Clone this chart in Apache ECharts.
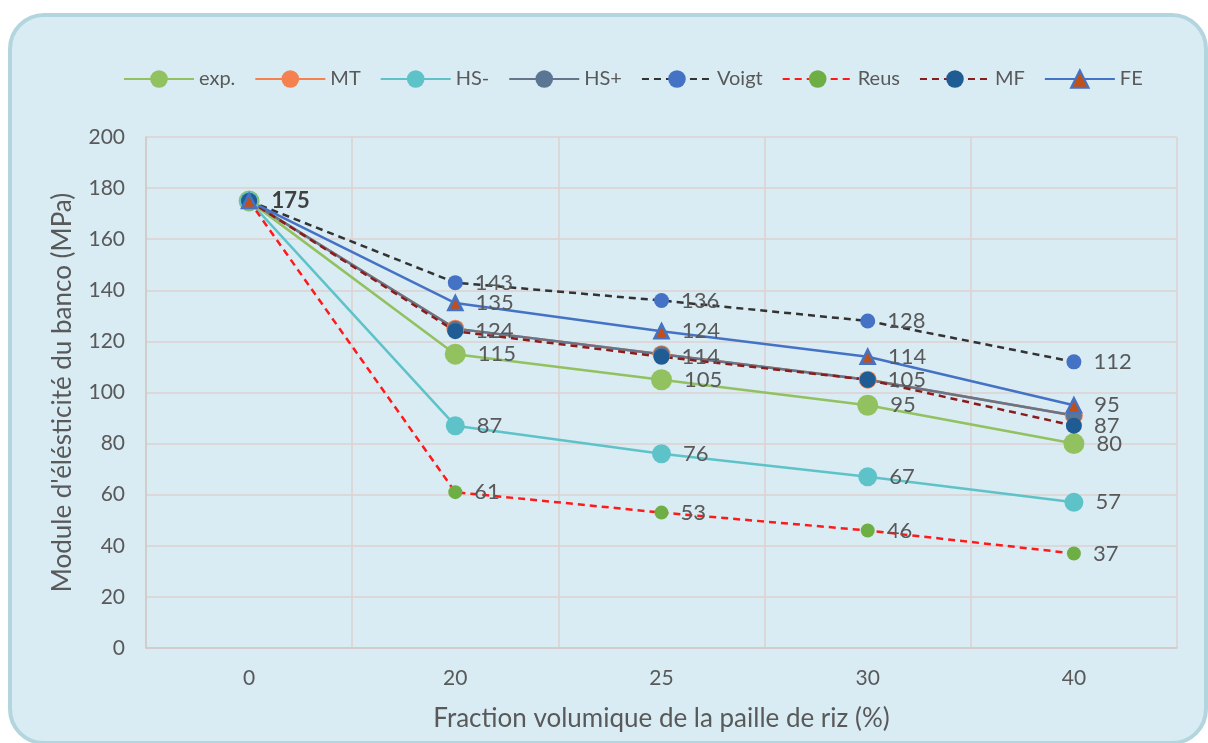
<!DOCTYPE html>
<html>
<head>
<meta charset="utf-8">
<script src="https://cdn.jsdelivr.net/npm/echarts@6/dist/echarts.min.js"></script>
<style>
  html, body { margin: 0; padding: 0; background: #fff; }
  #frame {
    position: absolute; left: 8px; top: 13px; width: 1192px; height: 724px;
    background: #d9ebf3; border: 4px solid #b3d6de; border-radius: 36px;
  }
  #chart { position: absolute; left: 0; top: 0; width: 1208px; height: 743px; }
</style>
</head>
<body>
<div id="frame"></div>
<div id="chart"></div>
<script>
  const fractions = ['0', '20', '25', '30', '40'];
  const expVals = [175, 115, 105, 95, 80];
  const mtVals = [175, 125, 115, 105, 91];
  const hsMinusVals = [175, 87, 76, 67, 57];
  const hsPlusVals = [175, 125, 115, 105, 91];
  const voigtVals = [175, 143, 136, 128, 112];
  const reusVals = [175, 61, 53, 46, 37];
  const mfVals = [175, 124, 114, 105, 87];
  const feVals = [175, 135, 124, 114, 95];

  const textColor = '#595959';
  const font = 'Lato, "Noto Sans", sans-serif';

  function labelled(vals, bold) {
    return vals.map((v, i) => {
      if (i > 0) return v;
      return bold
        ? { value: v, label: { show: true, fontWeight: 'bold', color: '#404040' } }
        : { value: v, label: { show: false } };
    });
  }

  function line(name, vals, opts) {
    return Object.assign({
      name,
      type: 'line',
      symbol: 'circle',
      symbolSize: 14,
      data: vals,
      label: { show: false },
      z: 2
    }, opts);
  }

  function shownLabel() {
    return { show: true, position: 'right', distance: 12, color: textColor, fontSize: 22, fontFamily: font };
  }

  const chart = echarts.init(document.getElementById('chart'));
  chart.setOption({
    backgroundColor: 'transparent',
    animation: false,
    textStyle: { fontFamily: font },
    grid: { left: 146, right: 31, top: 137, bottom: 95 },
    legend: {
      left: 118,
      top: 64,
      itemWidth: 70,
      itemHeight: 22,
      itemGap: 19,
      textStyle: { color: textColor, fontSize: 20, fontFamily: font },
      data: ['exp.', 'MT', 'HS-', 'HS+', 'Voigt', 'Reus', 'MF', 'FE']
    },
    xAxis: {
      type: 'category',
      data: fractions,
      boundaryGap: true,
      name: 'Fraction volumique de la paille de riz (%)',
      nameLocation: 'middle',
      nameGap: 58,
      nameTextStyle: { color: textColor, fontSize: 26, fontFamily: font },
      axisLine: { lineStyle: { color: '#cfc8c6', width: 1.5 } },
      axisTick: { show: false },
      axisLabel: { color: textColor, fontSize: 21, margin: 20 },
      splitLine: { show: true, lineStyle: { color: '#dcd2d0', width: 1.5 } }
    },
    yAxis: {
      type: 'value',
      min: 0,
      max: 200,
      interval: 20,
      name: "Module d'élésticité du banco (MPa)",
      nameLocation: 'middle',
      nameGap: 70,
      nameTextStyle: { color: textColor, fontSize: 26, fontFamily: font },
      axisLine: { show: true, lineStyle: { color: '#cfc8c6', width: 1.5 } },
      axisTick: { show: false },
      axisLabel: { color: textColor, fontSize: 21, margin: 21 },
      splitLine: { lineStyle: { color: '#dcd2d0', width: 1.5 } }
    },
    series: [
      line('exp.', labelled(expVals, true), {
        symbolSize: 21,
        itemStyle: { color: '#92c15f' },
        lineStyle: { color: '#92c15f', width: 2.5 },
        label: shownLabel()
      }),
      line('MT', mtVals, {
        symbolSize: 18,
        itemStyle: { color: '#f4814f' },
        lineStyle: { color: '#f4814f', width: 2.5 }
      }),
      line('HS-', labelled(hsMinusVals, false), {
        symbolSize: 19,
        itemStyle: { color: '#5ec3c8' },
        lineStyle: { color: '#5ec3c8', width: 2.5 },
        label: shownLabel()
      }),
      line('HS+', hsPlusVals, {
        symbolSize: 16,
        itemStyle: { color: '#5b7595' },
        lineStyle: { color: '#66758a', width: 2.5 }
      }),
      line('Voigt', labelled(voigtVals, false), {
        symbolSize: 15,
        itemStyle: { color: '#4472c4' },
        lineStyle: { color: '#333333', width: 2.5, type: [7, 5] },
        label: shownLabel()
      }),
      line('Reus', labelled(reusVals, false), {
        symbolSize: 14,
        itemStyle: { color: '#6daf44' },
        lineStyle: { color: '#ff1a1a', width: 2.5, type: [7, 5] },
        label: shownLabel()
      }),
      line('MF', labelled(mfVals, false), {
        symbolSize: 16,
        itemStyle: { color: '#1f5c94' },
        lineStyle: { color: '#8b1c1c', width: 2.5, type: [7, 5] },
        label: shownLabel()
      }),
      line('FE', labelled(feVals, false), {
        symbol: 'triangle',
        symbolSize: 14,
        itemStyle: { color: '#c0501a', borderColor: '#4472c4', borderWidth: 2.5 },
        lineStyle: { color: '#4472c4', width: 2.5 },
        label: shownLabel()
      })
    ]
  });
</script>
</body>
</html>
